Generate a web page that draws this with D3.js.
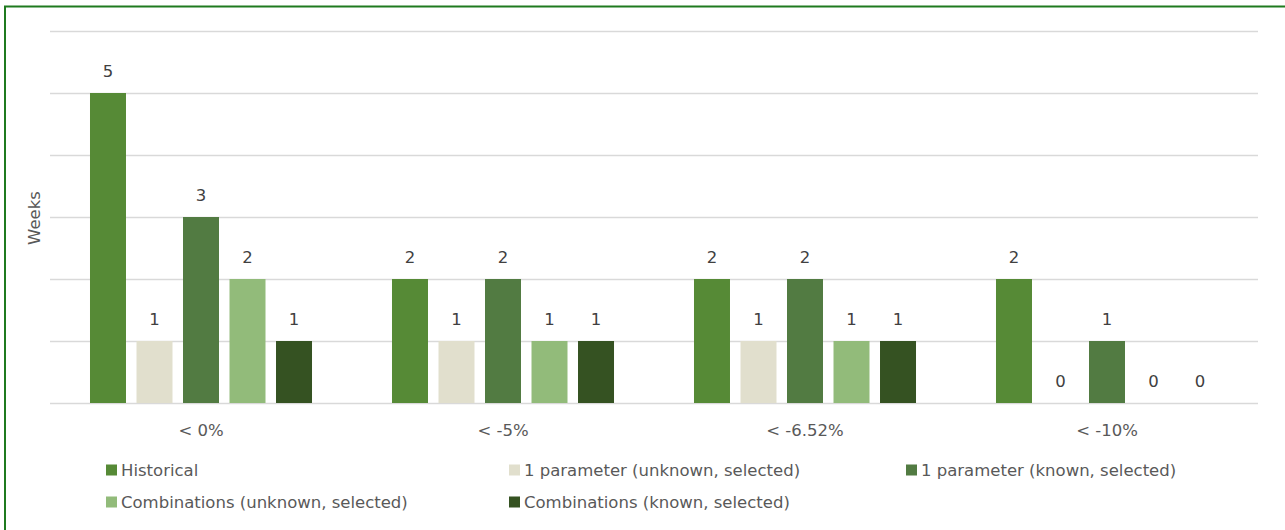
<!DOCTYPE html>
<html>
<head>
<meta charset="utf-8">
<script src="https://cdn.jsdelivr.net/npm/d3@7"></script>
<style>
  body { margin: 0; background: #fff; }
  svg { display: block; font-family: "DejaVu Sans", Verdana, sans-serif; }
</style>
</head>
<body>
<div id="chart"></div>
<script>
const categories = ["< 0%", "< -5%", "< -6.52%", "< -10%"];
const seriesNames = [
  "Historical",
  "1 parameter (unknown, selected)",
  "1 parameter (known, selected)",
  "Combinations (unknown, selected)",
  "Combinations (known, selected)"
];
const historical = [5, 2, 2, 2];
const oneParamUnknown = [1, 1, 1, 0];
const oneParamKnown = [3, 2, 2, 1];
const combUnknown = [2, 1, 1, 0];
const combKnown = [1, 1, 1, 0];
const yTicks = [0, 1, 2, 3, 4, 5, 6];
const colors = ["#568a36", "#e1dfcd", "#527b42", "#92bb7a", "#355222"];

const seriesValues = [historical, oneParamUnknown, oneParamKnown, combUnknown, combKnown];

const width = 1285, height = 530;
const plot = {left: 50, right: 1258, top: 31, bottom: 403};
const fontSize = 16.5;

const svg = d3.select("#chart").append("svg")
  .attr("width", width)
  .attr("height", height);

// frame (only top and left edges fall inside the window)
svg.append("rect")
  .attr("x", 5).attr("y", 6.5)
  .attr("width", width + 20).attr("height", height + 20)
  .attr("fill", "none")
  .attr("stroke", "#1f7a1f")
  .attr("stroke-width", 2);

const x0 = d3.scaleBand().domain(categories).range([plot.left, plot.right]);
const x1 = d3.scaleBand().domain(seriesNames).range([0, x0.bandwidth()])
  .paddingInner(0.226).paddingOuter(0.86);
const y = d3.scaleLinear().domain([0, 6]).range([plot.bottom, plot.top]);

// grid lines
const yAxis = d3.axisLeft(y).tickValues(yTicks).tickSize(-(plot.right - plot.left)).tickFormat("");
const gY = svg.append("g").attr("transform", "translate(" + plot.left + ",0)").call(yAxis);
gY.select(".domain").remove();
gY.selectAll(".tick line").attr("stroke", "#d9d9d9").attr("stroke-width", 1.5);

// bars
const groups = svg.append("g").selectAll("g")
  .data(categories)
  .enter().append("g")
  .attr("transform", d => "translate(" + x0(d) + ",0)");

const cells = groups.selectAll("g")
  .data((c, i) => seriesNames.map((s, j) => ({series: s, idx: j, value: seriesValues[j][i]})))
  .enter().append("g");

cells.append("rect")
  .attr("x", d => x1(d.series))
  .attr("y", d => y(d.value))
  .attr("width", x1.bandwidth())
  .attr("height", d => y(0) - y(d.value))
  .attr("fill", d => colors[d.idx]);

cells.append("text")
  .attr("x", d => x1(d.series) + x1.bandwidth() / 2)
  .attr("y", d => y(d.value) - 16)
  .attr("text-anchor", "middle")
  .attr("font-size", fontSize)
  .attr("fill", "#404040")
  .text(d => d.value);

// category axis
const xAxis = d3.axisBottom(x0).tickSize(0).tickPadding(21);
const gX = svg.append("g").attr("transform", "translate(0," + plot.bottom + ")").call(xAxis);
gX.select(".domain").remove();
gX.selectAll("text").attr("font-size", fontSize).attr("fill", "#595959")
  .attr("font-family", "DejaVu Sans, Verdana, sans-serif");

// y title
svg.append("text")
  .attr("transform", "translate(40,218) rotate(-90)")
  .attr("text-anchor", "middle")
  .attr("font-size", fontSize)
  .attr("fill", "#595959")
  .text("Weeks");

// legend
const legendPos = [[106, 470], [509, 470], [906, 470], [106, 502], [509, 502]];
const legend = svg.append("g").selectAll("g")
  .data(seriesNames)
  .enter().append("g")
  .attr("transform", (d, i) => "translate(" + legendPos[i][0] + "," + legendPos[i][1] + ")");
legend.append("rect")
  .attr("x", 0).attr("y", -5.5)
  .attr("width", 11).attr("height", 11)
  .attr("fill", (d, i) => colors[i]);
legend.append("text")
  .attr("x", 15).attr("y", 0)
  .attr("dy", "0.35em")
  .attr("font-size", fontSize)
  .attr("fill", "#595959")
  .text(d => d);
</script>
</body>
</html>
